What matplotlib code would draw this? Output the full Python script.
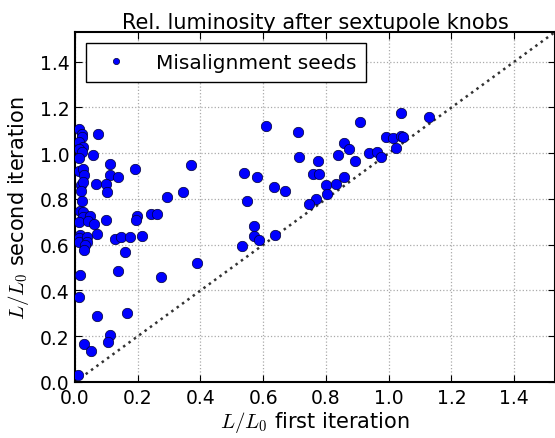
import matplotlib
matplotlib.use("Agg")
import matplotlib.pyplot as plt
import numpy as np

plt.rcParams['mathtext.fontset'] = 'cm'
plt.rcParams['font.family'] = ['DejaVu Sans']

first_iter = [
    0.013, 0.022, 0.023, 0.014, 0.027, 0.014, 0.023, 0.013, 0.073, 0.057,
    0.112, 0.192, 0.013, 0.024, 0.028, 0.112, 0.137, 0.068, 0.098, 0.103,
    0.020, 0.024, 0.020, 0.022, 0.017, 0.027, 0.024, 0.014, 0.048, 0.043,
    0.061, 0.100, 0.198, 0.196, 0.214, 0.243, 0.260, 0.294, 0.343, 0.371,
    0.070, 0.017, 0.013, 0.013, 0.037, 0.037, 0.033, 0.030, 0.127, 0.146,
    0.176, 0.159, 0.138, 0.274, 0.389, 0.016, 0.013, 0.070, 0.166, 0.111,
    0.106, 0.028, 0.050, 0.011,
    0.610, 0.710, 0.908, 0.715, 0.538, 0.581, 0.634, 0.668, 0.549, 0.569,
    0.569, 0.588, 0.531, 0.636, 0.775, 0.758, 0.777, 0.799, 0.804, 0.767,
    0.747, 0.831, 0.858, 0.837, 0.856, 0.874, 0.891, 0.938,
    1.038, 1.127, 0.990, 1.014, 1.038, 1.045, 1.023, 0.964, 0.976,
]
second_iter = [
    1.108, 1.085, 1.070, 1.050, 1.028, 1.018, 1.006, 0.979, 1.086, 0.993,
    0.953, 0.933, 0.921, 0.929, 0.906, 0.905, 0.897, 0.864, 0.867, 0.830,
    0.863, 0.875, 0.835, 0.792, 0.748, 0.745, 0.723, 0.698, 0.726, 0.702,
    0.691, 0.708, 0.726, 0.708, 0.640, 0.736, 0.736, 0.807, 0.830, 0.947,
    0.647, 0.643, 0.628, 0.610, 0.632, 0.610, 0.599, 0.578, 0.627, 0.634,
    0.634, 0.568, 0.486, 0.458, 0.521, 0.468, 0.372, 0.287, 0.300, 0.205,
    0.173, 0.167, 0.135, 0.031,
    1.117, 1.091, 1.135, 0.982, 0.915, 0.897, 0.853, 0.836, 0.791, 0.682,
    0.637, 0.622, 0.593, 0.643, 0.966, 0.911, 0.911, 0.862, 0.821, 0.802,
    0.777, 0.867, 0.894, 0.993, 1.045, 1.020, 0.966, 1.001,
    1.175, 1.159, 1.072, 1.066, 1.076, 1.072, 1.025, 1.006, 0.985,
]
axis_max = 1.53
ticks = [0.0, 0.2, 0.4, 0.6, 0.8, 1.0, 1.2, 1.4]

fig = plt.figure(figsize=(5.55, 4.39), dpi=100)
ax = fig.add_axes([75/555, 56/439, 480/555, 350/439])

ax.plot(first_iter, second_iter, 'o', color='#0000ff', markeredgecolor='#000033',
        markeredgewidth=0.5, markersize=7.5, label='Misalignment seeds', zorder=3)
ax.plot([0, axis_max], [0, axis_max], ':', color='#333333', linewidth=1.8, zorder=2)

ax.set_xlim(0, axis_max)
ax.set_ylim(0, axis_max)
ax.set_xticks(ticks)
ax.set_yticks(ticks)
ax.set_xticklabels([f"{t:.1f}" for t in ticks])
ax.set_yticklabels([f"{t:.1f}" for t in ticks])
ax.grid(True, linestyle=':', color='#aaaaaa', linewidth=0.9)
ax.tick_params(direction='in', top=True, right=True, labelsize=13.5, length=5, pad=4)
for s in ax.spines.values():
    s.set_linewidth(1.5)

ax.set_title('Rel. luminosity after sextupole knobs', fontsize=15, pad=3)
ax.set_xlabel('$L/L_0$ first iteration', fontsize=15, labelpad=2)
ax.set_ylabel('$L/L_0$ second iteration', fontsize=15, labelpad=6)

leg = ax.legend(loc='upper left', numpoints=1, markerscale=0.6, fontsize=14.5,
                fancybox=False, framealpha=1, borderpad=0.5, handletextpad=0.95,
                borderaxespad=0.55, handlelength=2.0)
leg.get_frame().set_edgecolor('black')
leg.get_frame().set_linewidth(1.0)

fig.savefig('out.png', dpi=100)
